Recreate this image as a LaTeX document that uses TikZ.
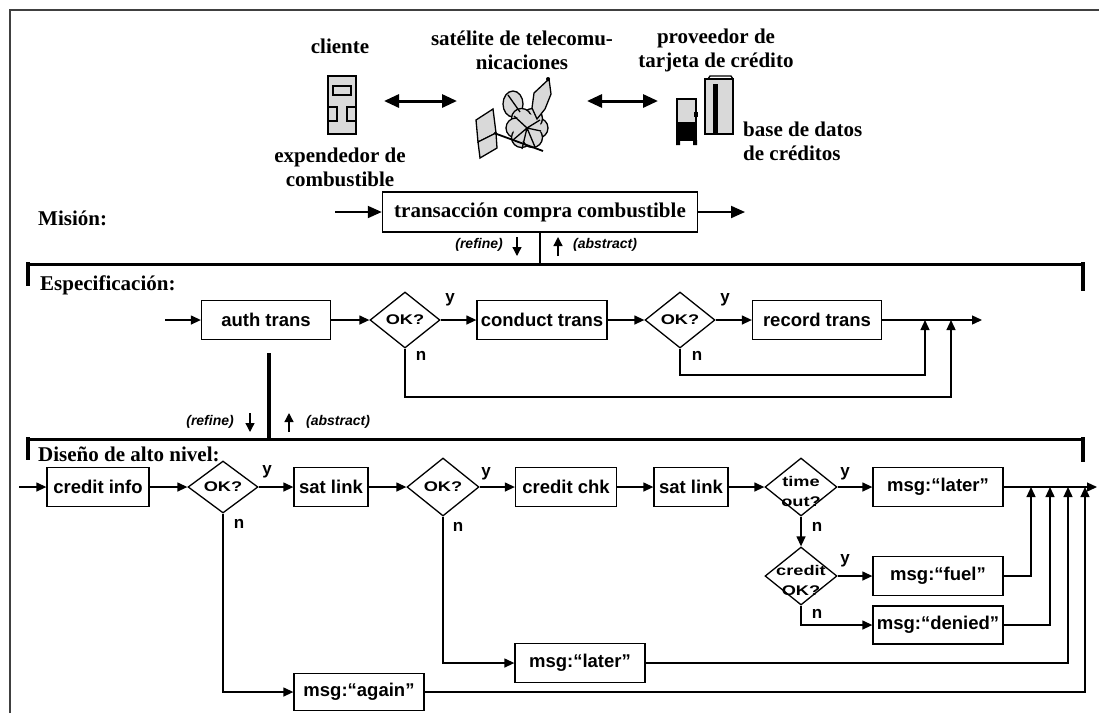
\documentclass[tikz,border=0pt]{standalone}
\usepackage{fontspec}
\setmainfont{Liberation Serif}
\newfontfamily\boxfont{Liberation Sans}
\newfontfamily\widefont[FakeStretch=1.3]{Liberation Sans}
\usetikzlibrary{arrows.meta,shapes.geometric}

\begin{document}
\begin{tikzpicture}[x=1pt,y=-1pt,>={Triangle[length=10pt,width=9pt]},
  stage/.style={font=\fontsize{21}{24}\selectfont\bfseries,inner sep=0pt},
  blk/.style={draw,line width=1.3pt,minimum height=39pt,inner sep=0pt,
    font=\boxfont\fontsize{18.5}{20}\selectfont\bfseries},
  dec/.style={draw,diamond,line width=1.3pt,inner sep=0pt},
  dtxt/.style={font=\widefont\fontsize{14}{20}\selectfont\bfseries,align=center,inner sep=0pt},
  yn/.style={font=\boxfont\fontsize{17}{17}\selectfont\bfseries,inner sep=0pt},
  hint/.style={font=\boxfont\fontsize{14}{14}\selectfont\bfseries\itshape,inner sep=0pt},
  flow/.style={line width=1.3pt,->},
  tiny/.style={line width=1.3pt,-{Triangle[length=9pt,width=9pt]}},
  big/.style={line width=2pt,-{Triangle[length=14pt,width=12pt]}},
  twoway/.style={line width=3pt,{Triangle[length=15pt,width=13pt]}-{Triangle[length=15pt,width=13pt]}},
  bar/.style={line width=3pt},
  tick/.style={line width=4.5pt},
  icon/.style={line width=1.3pt,fill=black!15},
]
\useasboundingbox (0,0) rectangle (1099,713);
\draw[line width=2.5pt,black!75] (10,713) -- (10,10) -- (1099,10);

% --- actors ---
\node[stage] (clientname) at (340,46) {cliente};
\node[stage,align=center] (pumpname) at (340,167) {expendedor de\\combustible};
\node[stage,align=center] (satname) at (522,50) {satélite de telecomu-\\nicaciones};
\node[stage,align=center] (provname) at (716,50) {proveedor de\\tarjeta de crédito};
\node[stage,align=left,anchor=west] (dbname) at (743,141) {base de datos\\de créditos};

% pump
\draw[icon] (328,76) rectangle (356,134);
\draw[line width=1.3pt] (333,86) rectangle (351,95);
\draw[line width=1.3pt] (328,107) rectangle (337,121);
\draw[line width=1.3pt] (347,107) rectangle (356,121);

% satellite
\draw[icon] (476,120) -- (493,109) -- (496,133) -- (478,142) -- cycle;
\draw[icon] (478,142) -- (496,133) -- (497,148) -- (480,158) -- cycle;
\draw[icon] (513,104) ellipse (10pt and 13pt);
\foreach \a in {0,60,...,300}
  \draw[icon] ([shift={(\a:11pt)}]527,128) circle (10pt);
\fill[black!15] (527,128) circle (14pt);
\draw[icon] (532,108) -- (534,93) -- (549,79) -- (551,94) -- (545,109) -- (537,119) -- cycle;
\draw[line width=1.3pt] (508,95) -- (520,112) (514,116) -- (527,128) -- (540,120)
  (527,128) -- (522,149) (527,128) -- (535,147) (513,140) -- (527,128) (527,128) -- (541,131);
\draw[line width=1.8pt] (494,133) -- (543,151);
\fill (548,79) circle (2pt);

% servers
\draw[line width=1.3pt,fill=black!15] (677,99) rectangle (696,124);
\fill (676,122) rectangle (697,141);
\fill (676,140) rectangle (680,145) (693,140) rectangle (697,145);
\fill (694,112) rectangle (698,117);
\draw[line width=2pt,fill=black!15] (705,79) rectangle (733,134);
\fill (713,84) rectangle (718,134);
\draw[line width=1.3pt] (708,79) -- (710,76) -- (731,76) -- (733,79);

\coordinate (p1) at (384,101);
\coordinate (p2) at (457,101);
\coordinate (p3) at (587,101);
\coordinate (p4) at (658,101);
\draw[twoway] (p1) -- (p2);
\draw[twoway] (p3) -- (p4);

% --- mission ---
\node[stage,anchor=west] (mislbl) at (38,218) {Misión:};
\node[stage,draw,line width=1.5pt,minimum width=315pt,minimum height=40pt] (mission) at (540,212) {transacción compra combustible};
\coordinate (min) at (335,212);
\coordinate (mout) at (745,212);
\draw[big] (min) -- (mission);
\draw[big] (mission) -- (mout);
\coordinate (mlink) at (540,264);
\draw[line width=2.5pt] (mission.south) -- (mlink);
\node[hint,anchor=east] (ref1) at (503,245) {(refine)};
\node[hint,anchor=west] (abs1) at (573,245) {(abstract)};
\draw[tiny] (517,237) -- (517,256);
\draw[tiny] (558,256) -- (558,237);

% --- specification ---
\draw[bar] (28,264) -- (1083,264);
\draw[tick] (28,262) -- (28,286);
\draw[tick] (1083,262) -- (1083,291);
\node[stage,anchor=west] (speclbl) at (40,285) {Especificación:};

\coordinate (sin) at (165,320);
\node[blk,minimum width=129pt] (auth) at (266,320) {auth trans};
\node[dec,minimum width=70pt,minimum height=56pt] (sok1) at (405,320) {};
\node[dtxt] (sok1t) at (405,320) {OK?};
\node[blk,minimum width=130pt] (conduct) at (542,320) {conduct trans};
\node[dec,minimum width=70pt,minimum height=56pt] (sok2) at (680,320) {};
\node[dtxt] (sok2t) at (680,320) {OK?};
\node[blk,minimum width=129pt] (record) at (817,320) {record trans};
\coordinate (sout) at (982,320);
\coordinate (k1) at (925,320);
\coordinate (k2) at (951,320);
\coordinate (k1b) at (925,375);
\coordinate (k2b) at (951,397);

\draw[flow] (sin) -- (auth);
\draw[flow] (auth) -- (sok1);
\draw[flow] (sok1) -- (conduct);
\draw[flow] (conduct) -- (sok2);
\draw[flow] (sok2) -- (record);
\draw[flow] (record) -- (sout);
\draw[flow] (sok2.south) |- (k1b) -- (k1);
\draw[flow] (sok1.south) |- (k2b) -- (k2);
\node[yn] (sy1) at (450,300) {y};
\node[yn] (sy2) at (725,300) {y};
\node[yn] (sn1) at (421,356) {n};
\node[yn] (sn2) at (697,356) {n};

\coordinate (dtop) at (269,353);
\coordinate (dbot) at (269,439);
\draw[line width=4pt] (dtop) -- (dbot);
\node[hint,anchor=east] (ref2) at (234,422) {(refine)};
\node[hint,anchor=west] (abs2) at (306,422) {(abstract)};
\draw[tiny] (250,413) -- (250,432);
\draw[tiny] (289,432) -- (289,413);

% --- high level design ---
\draw[bar] (28,439) -- (1083,439);
\draw[tick] (28,437) -- (28,460);
\draw[tick] (1083,437) -- (1083,462);
\node[stage,anchor=west] (deslbl) at (38,454) {Diseño de alto nivel:};

\coordinate (din) at (19,487);
\node[blk,minimum width=102pt] (cinfo) at (98,487) {credit info};
\node[dec,minimum width=70pt,minimum height=52pt] (ok1) at (223,487) {};
\node[dtxt] (ok1t) at (223,487) {OK?};
\node[blk,minimum width=74pt] (link1) at (331,487) {sat link};
\node[dec,minimum width=72pt,minimum height=58pt] (ok2) at (443,487) {};
\node[dtxt] (ok2t) at (443,487) {OK?};
\node[blk,minimum width=101pt] (chk) at (566,487) {credit chk};
\node[blk,minimum width=74pt] (link2) at (691,487) {sat link};
\node[dec,minimum width=72pt,minimum height=58pt] (tout) at (801,487) {};
\node[dtxt] (toutt) at (801,491) {time\\out?};
\node[blk,minimum width=130pt] (later1) at (938,487) {msg:“later”};
\node[dec,minimum width=72pt,minimum height=58pt] (cok) at (801,576) {};
\node[dtxt] (cokt) at (801,580) {credit\\OK?};
\node[blk,minimum width=130pt] (fuel) at (938,576) {msg:“fuel”};
\node[blk,minimum width=130pt,minimum height=38pt] (denied) at (938,625) {msg:“denied”};
\node[blk,minimum width=130pt] (later2) at (580,663) {msg:“later”};
\node[blk,minimum width=130pt,minimum height=37pt] (again) at (359,692) {msg:“again”};
\coordinate (dout) at (1097,487);
\coordinate (j1) at (1031,487);
\coordinate (j2) at (1050,487);
\coordinate (j3) at (1068,487);
\coordinate (j4) at (1085,487);

\draw[flow] (din) -- (cinfo);
\draw[flow] (cinfo) -- (ok1);
\draw[flow] (ok1) -- (link1);
\draw[flow] (link1) -- (ok2);
\draw[flow] (ok2) -- (chk);
\draw[flow] (chk) -- (link2);
\draw[flow] (link2) -- (tout);
\draw[flow] (tout) -- (later1);
\draw[flow] (later1) -- (dout);
\draw[flow] (tout) -- (cok);
\draw[flow] (cok) -- (fuel);
\draw[flow] (cok.south) |- (denied);
\draw[flow] (ok2.south) |- (later2);
\draw[flow] (ok1.south) |- (again);
\draw[flow] (fuel) -| (j1);
\draw[flow] (denied) -| (j2);
\draw[flow] (later2) -| (j3);
\draw[flow] (again) -| (j4);
\node[yn] (dy1) at (267,472) {y};
\node[yn] (dy2) at (486,474) {y};
\node[yn] (dy3) at (845,474) {y};
\node[yn] (dy4) at (845,561) {y};
\node[yn] (dn1) at (239,524) {n};
\node[yn] (dn2) at (458,527) {n};
\node[yn] (dn3) at (817,527) {n};
\node[yn] (dn4) at (817,614) {n};
\end{tikzpicture}
\end{document}
